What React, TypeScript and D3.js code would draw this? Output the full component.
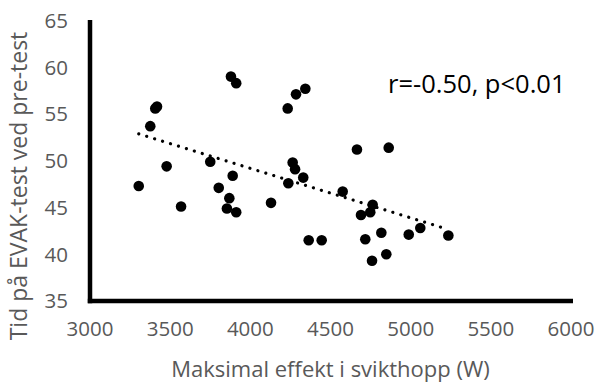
import React from "react";
import * as d3 from "d3";

const powerW: number[] = [
  3304, 3376, 3407, 3418, 3478, 3568, 3750, 3803, 3869, 3854, 3912, 3890,
  3879, 3912, 4129, 4233, 4285, 4343, 4264, 4279, 4330, 4237, 4364, 4445,
  4576, 4665, 4690, 4748, 4763, 4717, 4817, 4759, 4848, 4863, 4988, 5060, 5235,
];
const timeS: number[] = [
  47.3, 53.7, 55.6, 55.8, 49.4, 45.1, 49.9, 47.1, 46.0, 44.9, 44.5, 48.4,
  59.0, 58.3, 45.5, 55.6, 57.1, 57.7, 49.8, 49.1, 48.2, 47.6, 41.5, 41.5,
  46.7, 51.2, 44.2, 44.5, 45.3, 41.6, 42.3, 39.3, 40.0, 51.4, 42.1, 42.8, 42.0,
];
const xTicks: number[] = [3000, 3500, 4000, 4500, 5000, 5500, 6000];
const yTicks: number[] = [35, 40, 45, 50, 55, 60, 65];
const xTitle = "Maksimal effekt i svikthopp (W)";
const yTitle = "Tid på EVAK-test ved pre-test";
const annotation = "r=-0.50, p<0.01";

const W = 600;
const H = 388;
const FONT = "'Open Sans', 'Noto Sans', sans-serif";

export default function App() {
  const x = d3.scaleLinear().domain([3000, 6000]).range([90, 571]);
  const y = d3.scaleLinear().domain([35, 65]).range([301, 20.5]);

  const pts = powerW.map((p, i) => ({ p, t: timeS[i] }));
  const mx = d3.mean(powerW) as number;
  const my = d3.mean(timeS) as number;
  let sxy = 0;
  let sxx = 0;
  pts.forEach((d) => {
    sxy += (d.p - mx) * (d.t - my);
    sxx += (d.p - mx) * (d.p - mx);
  });
  const slope = sxy / sxx;
  const icpt = my - slope * mx;
  const [minX, maxX] = d3.extent(powerW) as [number, number];
  const trend = d3.line<number>()
    .x((v) => x(v))
    .y((v) => y(icpt + slope * v))([minX, maxX]);

  return (
    <svg
      width={W}
      height={H}
      style={{ position: "absolute", left: 0, top: 0, background: "#fff" }}
      fontFamily={FONT}
    >
      <rect width={W} height={H} fill="#fff" />
      {/* trendline */}
      <path
        d={trend || ""}
        fill="none"
        stroke="#000"
        strokeWidth={3.2}
        strokeLinecap="round"
        strokeDasharray="0.01 8.3"
      />
      {/* points */}
      {pts.map((d, i) => (
        <circle key={i} cx={x(d.p)} cy={y(d.t)} r={5.3} fill="#000" />
      ))}
      {/* axes */}
      <line x1={x(3000)} x2={x(3000)} y1={y(65) - 0.5} y2={y(35) + 2.2} stroke="#000" strokeWidth={4.5} />
      <line x1={x(3000) - 2.2} x2={x(6000) + 2} y1={y(35)} y2={y(35)} stroke="#000" strokeWidth={4.5} />
      {/* y tick labels */}
      {yTicks.map((t) => (
        <text
          key={t}
          x={68}
          y={y(t)}
          dy="0.36em"
          textAnchor="end"
          fontSize={20.5}
          fill="#595959"
        >
          {t}
        </text>
      ))}
      {/* x tick labels */}
      {xTicks.map((t) => (
        <text
          key={t}
          x={x(t)}
          y={336}
          textAnchor="middle"
          fontSize={20.5}
          fill="#595959"
        >
          {t}
        </text>
      ))}
      <text
        x={(x(3000) + x(6000)) / 2}
        y={377}
        textAnchor="middle"
        fontSize={22}
        fill="#595959"
      >
        {xTitle}
      </text>
      <text
        transform={`translate(27,186) rotate(-90)`}
        textAnchor="middle"
        fontSize={23}
        fill="#595959"
      >
        {yTitle}
      </text>
      <text x={388} y={92.5} fontSize={25.5} fill="#000">
        {annotation}
      </text>
    </svg>
  );
}
